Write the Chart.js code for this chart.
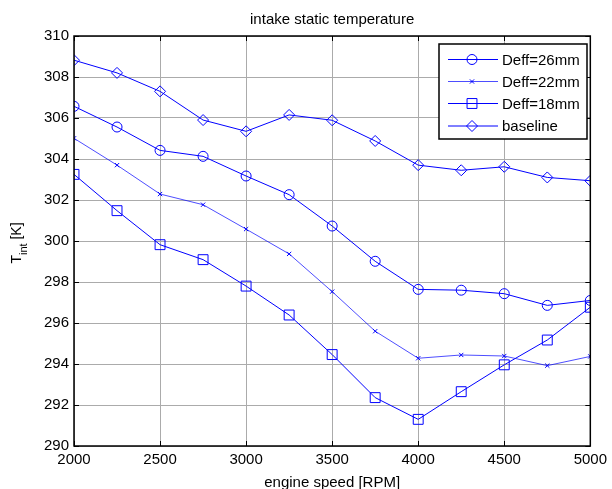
<!DOCTYPE html>
<html>
<head>
<meta charset="utf-8">
<script src="https://cdn.jsdelivr.net/npm/chart.js@4/dist/chart.umd.min.js"></script>
<style>
  html, body { margin: 0; padding: 0; background: #fff; }
  #wrap { width: 612px; height: 489px; position: relative; }
</style>
</head>
<body>
<div id="wrap"><canvas id="grafico" width="612" height="489"></canvas></div>
<script>
// dados
const rpm = [2000, 2250, 2500, 2750, 3000, 3250, 3500, 3750, 4000, 4250, 4500, 4750, 5000];
const deff26 = [306.57, 305.56, 304.42, 304.13, 303.17, 302.26, 300.73, 299.01, 297.64, 297.6, 297.43, 296.86, 297.1];
const deff22 = [305.01, 303.7, 302.29, 301.77, 300.58, 299.37, 297.53, 295.6, 294.28, 294.44, 294.39, 293.92, 294.37];
const deff18 = [303.25, 301.48, 299.82, 299.09, 297.8, 296.39, 294.46, 292.36, 291.3, 292.65, 293.96, 295.17, 296.77];
const baseline = [308.82, 308.2, 307.3, 305.9, 305.35, 306.15, 305.89, 304.88, 303.7, 303.45, 303.62, 303.1, 302.94];
const xTicks = [2000, 2500, 3000, 3500, 4000, 4500, 5000];
const yTicks = [290, 292, 294, 296, 298, 300, 302, 304, 306, 308, 310];

const titulo = 'intake static temperature';
const tituloX = 'engine speed [RPM]';
const fonte = '"Liberation Sans", Arial, sans-serif';
const azul = 'rgb(0,0,255)';

const series = [
    { label: 'Deff=26mm', data: deff26, style: 'circle', radius: 5, width: 1 },
    { label: 'Deff=22mm', data: deff22, style: 'crossRot', radius: 3, width: 0.7 },
    { label: 'Deff=18mm', data: deff18, style: 'rect', radius: 7, width: 1 },
    { label: 'baseline', data: baseline, style: 'rectRot', radius: 5.5, width: 1 }
];

const datasets = series.map(s => ({
    label: s.label,
    data: rpm.map((x, i) => ({ x: x, y: s.data[i] })),
    borderColor: azul,
    borderWidth: s.width,
    backgroundColor: 'transparent',
    pointStyle: s.style,
    pointRadius: s.radius,
    pointHoverRadius: s.radius,
    pointBorderColor: azul,
    pointBackgroundColor: 'transparent',
    pointBorderWidth: 1,
    tension: 0
}));

// moldura, ticks internos, títulos e legenda no estilo MATLAB
const extras = {
    id: 'extras',
    afterDatasetsDraw(chart) {
        const ctx = chart.ctx;
        const a = chart.chartArea;
        const sx = chart.scales.x, sy = chart.scales.y;
        ctx.save();
        ctx.strokeStyle = '#000';
        ctx.lineWidth = 1;
        ctx.beginPath();
        xTicks.forEach(v => {
            const px = Math.round(sx.getPixelForValue(v)) + 0.5;
            ctx.moveTo(px, a.bottom); ctx.lineTo(px, a.bottom - 5);
            ctx.moveTo(px, a.top); ctx.lineTo(px, a.top + 5);
        });
        yTicks.forEach(v => {
            const py = Math.round(sy.getPixelForValue(v)) + 0.5;
            ctx.moveTo(a.left, py); ctx.lineTo(a.left + 5, py);
            ctx.moveTo(a.right, py); ctx.lineTo(a.right - 5, py);
        });
        ctx.stroke();
        ctx.lineWidth = 1.5;
        ctx.strokeRect(a.left, a.top, a.right - a.left, a.bottom - a.top);

        // títulos
        ctx.fillStyle = '#000';
        ctx.textAlign = 'center';
        ctx.textBaseline = 'alphabetic';
        ctx.font = '15px ' + fonte;
        const cx = (a.left + a.right) / 2;
        ctx.fillText(titulo, cx, 24);
        ctx.fillText(tituloX, cx, 487);

        // rótulo do eixo y com subscrito
        const partes = [
            { t: 'T', f: '14px ' + fonte, dy: 0 },
            { t: 'int', f: '11px ' + fonte, dy: 6 },
            { t: ' [K]', f: '14px ' + fonte, dy: 0 }
        ];
        let total = 0;
        partes.forEach(p => { ctx.font = p.f; p.w = ctx.measureText(p.t).width; total += p.w; });
        ctx.translate(21, 243);
        ctx.rotate(-Math.PI / 2);
        ctx.textAlign = 'left';
        let pos = -total / 2;
        partes.forEach(p => { ctx.font = p.f; ctx.fillText(p.t, pos, p.dy); pos += p.w; });
        ctx.restore();

        // legenda
        ctx.save();
        const lx = 439, ly = 44, lw = 148, lh = 95;
        ctx.fillStyle = '#fff';
        ctx.fillRect(lx, ly, lw, lh);
        ctx.strokeStyle = '#000';
        ctx.lineWidth = 1.5;
        ctx.strokeRect(lx, ly, lw, lh);
        const linhas = [59.5, 81.5, 103.5, 126];
        series.forEach((s, i) => {
            const y = linhas[i];
            ctx.strokeStyle = azul;
            ctx.lineWidth = s.width;
            ctx.beginPath();
            ctx.moveTo(448, y); ctx.lineTo(498, y);
            ctx.stroke();
            ctx.lineWidth = 1;
            ctx.fillStyle = 'rgba(0,0,0,0)';
            Chart.helpers.drawPoint(ctx, { pointStyle: s.style, radius: s.radius, rotation: 0, borderWidth: 1 }, 472, y);
            ctx.fillStyle = '#000';
            ctx.font = '15px ' + fonte;
            ctx.textAlign = 'left';
            ctx.textBaseline = 'middle';
            ctx.fillText(s.label, 502, y + 1);
        });
        ctx.restore();
    }
};

const ctx = document.getElementById('grafico').getContext('2d');
new Chart(ctx, {
    type: 'line',
    data: { datasets: datasets },
    options: {
        responsive: false,
        animation: false,
        layout: { padding: { top: 36, right: 18, left: 0, bottom: 0 } },
        plugins: {
            legend: { display: false },
            title: { display: false },
            tooltip: { enabled: false }
        },
        scales: {
            x: {
                type: 'linear',
                min: 2000,
                max: 5000,
                afterFit: scale => { scale.height = 43; },
                afterBuildTicks: scale => { scale.ticks = xTicks.map(v => ({ value: v })); },
                ticks: {
                    autoSkip: false,
                    maxRotation: 0,
                    padding: 5,
                    color: '#000',
                    font: { family: fonte, size: 15 },
                    callback: v => String(v)
                },
                grid: { color: '#ababab', lineWidth: 1, drawTicks: false },
                border: { display: false }
            },
            y: {
                min: 290,
                max: 310,
                afterFit: scale => { scale.width = 74; },
                afterBuildTicks: scale => { scale.ticks = yTicks.map(v => ({ value: v })); },
                ticks: {
                    autoSkip: false,
                    padding: 5,
                    color: '#000',
                    font: { family: fonte, size: 15 },
                    callback: v => String(v)
                },
                grid: { color: '#ababab', lineWidth: 1, drawTicks: false },
                border: { display: false }
            }
        }
    },
    plugins: [extras]
});
</script>
</body>
</html>
